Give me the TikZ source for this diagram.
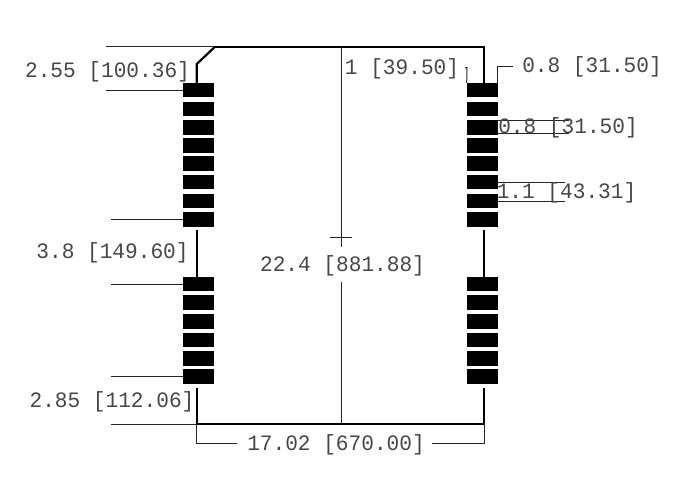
\documentclass[tikz,border=0pt]{standalone}
\usepackage{fontspec}
\setmainfont[FakeStretch=0.96]{Liberation Mono}
\tikzset{
  x=1pt,y=-1pt,
  outline/.style={line width=2.2pt,black,line cap=butt,line join=miter},
  dimline/.style={line width=1pt,black!85},
  padbox/.style={draw=none,fill=black,minimum width=31pt,minimum height=14.6pt,inner sep=0pt,outer sep=0pt},
  dimtext/.style={font=\fontsize{22}{22}\selectfont,text=black!72,inner sep=0pt,outer sep=0pt,anchor=center,yshift=-1.2pt}
}
\begin{document}
\begin{tikzpicture}
\useasboundingbox (0,0) rectangle (687,482);
% pads
\foreach \n/\y in {1/90.1,2/108.9,3/127.2,4/145.6,5/163.7,6/182,7/201,8/219.7,9/284.1,10/302.7,11/321.4,12/339.9,13/358.6,14/376.5}{
  \node[padbox] (L\n) at (198.5,\y) {};
  \node[padbox] (R\n) at (482.2,\y) {};
}
% named points
\coordinate (tl) at (215,46.7);
\coordinate (ch) at (196.8,64);
\coordinate (tr) at (484.3,46.7);
\coordinate (bl) at (196.8,424);
\coordinate (br) at (484.3,424);
\coordinate (cxt) at (341,46.7);
\coordinate (cxb) at (341,424);
% outline
\draw[outline] (tl) -- (tr) -- (tr |- R1.north);
\draw[outline] (tl) -- (ch) -- (ch |- L1.north);
\draw[outline] (bl) -- (br) -- (br |- 0,388);
\draw[outline] (bl) -- (bl |- 0,388);
\draw[outline] (ch |- 0,229.5) -- (ch |- L9.north);
\draw[outline] (tr |- 0,229.5) -- (tr |- R9.north);
% left extension lines
\draw[dimline] (tl) -- (106,46.7);
\draw[dimline] (L1.west) -- (106,90.1);
\draw[dimline] (L8.west) -- (111,219.7);
\draw[dimline] (L9.west) -- (111,284.1);
\draw[dimline] (L14.west) -- (111,376.5);
\draw[dimline] (bl) -- (111,424);
% centre dimension
\draw[dimline] (cxt) -- (341,247);
\draw[dimline] (341,282) -- (cxb);
\draw[dimline] (330,237) -- (352,237);
% bottom dimension
\draw[dimline] (bl) -- (196.8,443.5) -- (237,443.5);
\draw[dimline] (br) -- (484.3,443.5) -- (432,443.5);
% right top brackets
\draw[dimline] (R1.north west) -- (467,67.5) -- (465,67.5);
\draw[dimline] (R1.north east) -- (497.7,66) -- (513,66);
% right stacked dimensions
\draw[dimline] (R3.east |- 0,120.7) -- (569,120.7);
\draw[dimline] (R3.east |- 0,133.3) -- (569,133.3);
\draw[dimline] (R6.east) -- (565,182);
\draw[dimline] (R7.east) -- (565,201);
% labels
\node[dimtext] (t1) at (107.5,71) {2.55 [100.36]};
\node[dimtext] (t2) at (112.5,252) {3.8 [149.60]};
\node[dimtext] (t3) at (112,401) {2.85 [112.06]};
\node[dimtext] (t4) at (342.5,265) {22.4 [881.88]};
\node[dimtext] (t5) at (336,444) {17.02 [670.00]};
\node[dimtext] (t6) at (402,68) {1 [39.50]};
\node[dimtext] (t7) at (592,66) {0.8 [31.50]};
\node[dimtext] (t8) at (568,127) {0.8 [31.50]};
\node[dimtext] (t9) at (566.5,192) {1.1 [43.31]};
\end{tikzpicture}
\end{document}
